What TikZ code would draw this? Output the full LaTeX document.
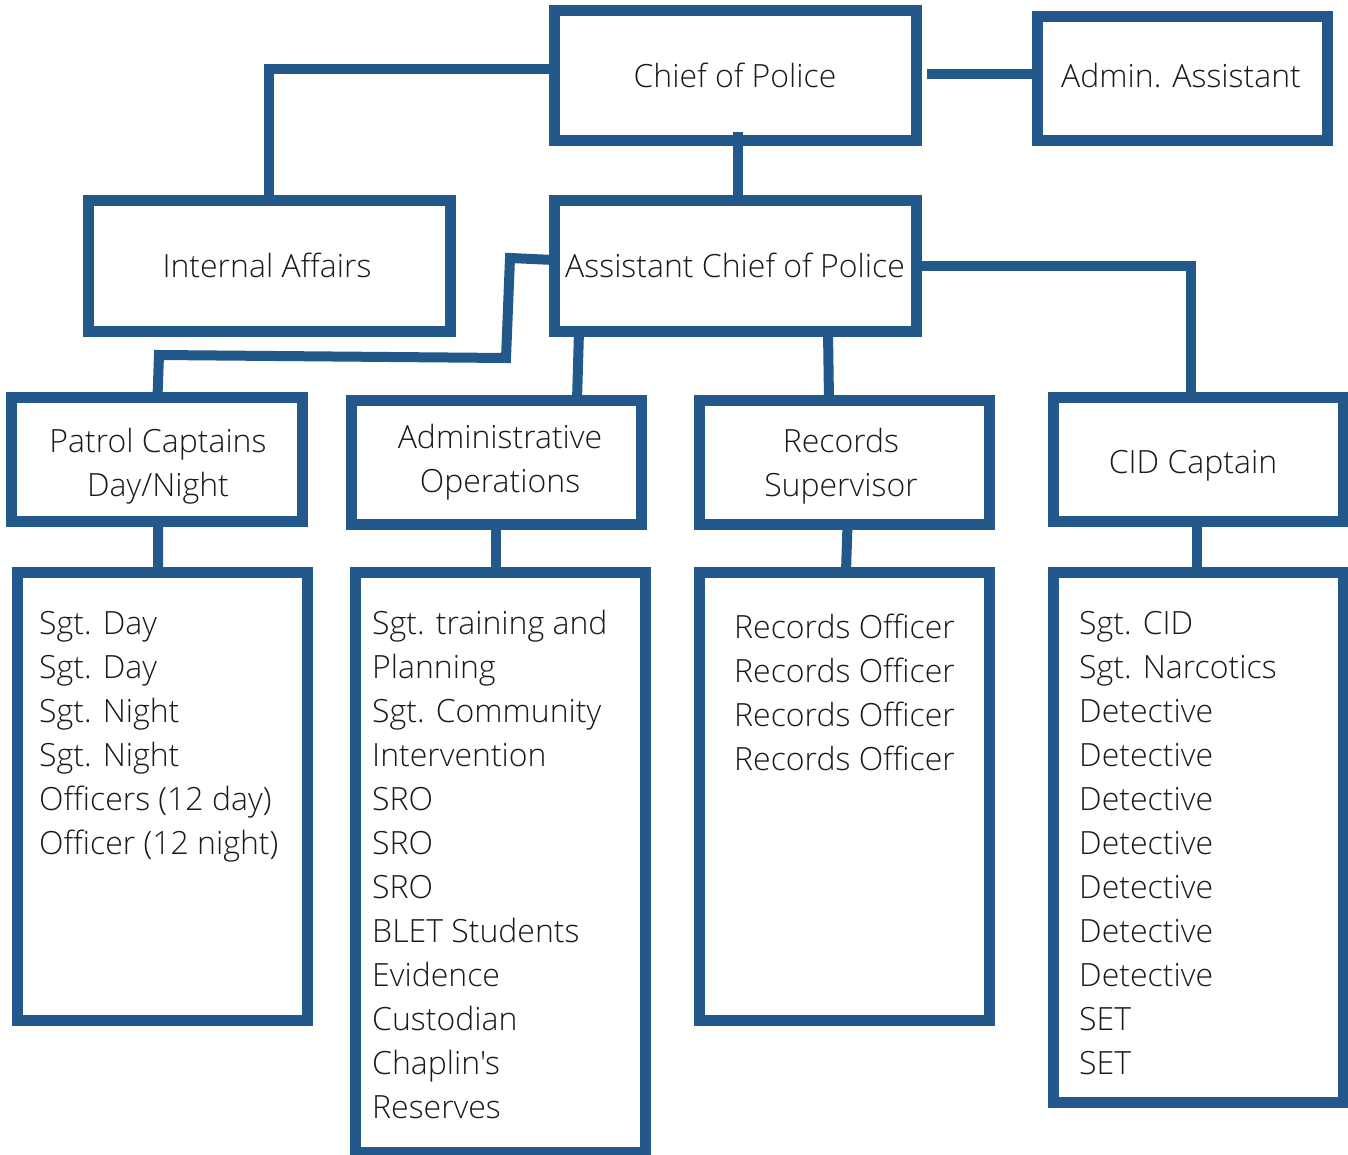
\documentclass[tikz,border=0pt]{standalone}
\usepackage{fontspec}
\IfFontExistsTF{Open Sans Light}
  {\newfontfamily\hdrfont{Open Sans Light}\newfontfamily\listfont{Open Sans Light}}
  {\newfontfamily\hdrfont{Open Sans}\newfontfamily\listfont{Open Sans}}
\definecolor{boxblue}{RGB}{34,89,138}
\definecolor{ink}{RGB}{26,26,26}
\newcommand{\leftlines}[1]{\vtop{\baselineskip=44pt\lineskiplimit=-100pt\halign{##\hfil\cr#1\crcr}}}
\newcommand{\centerlines}[1]{\vtop{\baselineskip=44pt\lineskiplimit=-100pt\halign{\hfil##\hfil\cr#1\crcr}}}
\tikzset{
  orgbox/.style={draw=boxblue,line width=11pt,inner sep=0pt,outer sep=0pt},
  conn/.style={draw=boxblue,line width=10pt},
  hdr/.style={font=\hdrfont\fontsize{32}{44}\selectfont,text=ink,inner sep=0pt,anchor=base},
  lst/.style={font=\listfont\fontsize{32}{44}\selectfont,text=ink,inner sep=0pt,anchor=base west},
}
\begin{document}
\begin{tikzpicture}[x=1pt,y=-1pt]
\useasboundingbox (0,0) rectangle (1348,1155);
\fill[white] (0,0) rectangle (1348,1155);

% boxes
\node[orgbox,minimum width=362pt,minimum height=130pt] (chief)  at (735,75.5) {};
\node[orgbox,minimum width=290pt,minimum height=124pt] (admin)  at (1182,79) {};
\node[orgbox,minimum width=362pt,minimum height=130pt] (ia)     at (269,266) {};
\node[orgbox,minimum width=362pt,minimum height=130pt] (asst)   at (735,266) {};
\node[orgbox,minimum width=291pt,minimum height=124pt] (patrol) at (156.5,459) {};
\node[orgbox,minimum width=290pt,minimum height=124pt] (adops)  at (496,462.5) {};
\node[orgbox,minimum width=290pt,minimum height=124pt] (recsup) at (844,462.5) {};
\node[orgbox,minimum width=290pt,minimum height=124pt] (cid)    at (1198,459) {};
\node[orgbox,minimum width=290.5pt,minimum height=448pt] (plist) at (162.25,796) {};
\node[orgbox,minimum width=290pt,minimum height=580pt] (alist)  at (500,862) {};
\node[orgbox,minimum width=290pt,minimum height=448pt] (rlist)  at (844,796) {};
\node[orgbox,minimum width=290pt,minimum height=530pt] (clist)  at (1198,837) {};

% connectors
\draw[conn] ([yshift=6.5pt]chief.west) -| (ia.north);
\draw[conn] ([xshift=11pt,yshift=1.5pt]chief.east) coordinate (ca) -- (ca -| admin.west);
\draw[conn] ([xshift=3pt,yshift=8pt]chief.south) -- ([xshift=3pt]asst.north);
\draw[conn] (asst.east) -- (1190.5,266) -- (1190.5,397) coordinate (cidtop) -- (cidtop);
\draw[conn] ([yshift=6pt]asst.west) -- (510,258) -- (506,358) -- (159,355) -- ([xshift=1pt]patrol.north);
\draw[conn] ([xshift=-156pt]asst.south) -- ([xshift=81pt]adops.north);
\draw[conn] ([xshift=93pt]asst.south) -- ([xshift=-15pt]recsup.north);
\draw[conn] ([xshift=1.5pt]patrol.south) -- ([xshift=-4pt]plist.north);
\draw[conn] (adops.south) -- ([xshift=-4pt]alist.north);
\draw[conn] ([xshift=3.5pt]recsup.south) -- ([xshift=2pt]rlist.north);
\draw[conn] ([xshift=-1pt]cid.south) -- ([xshift=-1pt]clist.north);

% header texts
\node[hdr] (t-chief)  at (735,88)  {Chief of Police};
\node[hdr] (t-admin)  at (1181,88) {Admin. Assistant};
\node[hdr] (t-ia)     at (267,278) {Internal Affairs};
\node[hdr] (t-asst)   at (735,278) {Assistant Chief of Police};
\node[hdr] (t-patrol) at (158,452) {\centerlines{Patrol Captains\cr Day/Night}};
\node[hdr] (t-adops)  at (500,448) {\centerlines{Administrative\cr Operations}};
\node[hdr] (t-recsup) at (841,452) {\centerlines{Records\cr Supervisor}};
\node[hdr] (t-cid)    at (1193,473) {CID Captain};

% list texts
\node[lst] (l-patrol) at (39,634) {\leftlines{Sgt. Day\cr Sgt. Day\cr Sgt. Night\cr Sgt. Night\cr Officers (12 day)\cr Officer (12 night)}};
\node[lst] (l-adops) at (372,634) {\leftlines{Sgt. training and\cr Planning\cr Sgt. Community\cr Intervention\cr SRO\cr SRO\cr SRO\cr BLET Students\cr Evidence\cr Custodian\cr Chaplin's\cr Reserves}};
\node[lst] (l-rec) at (734,638) {\leftlines{Records Officer\cr Records Officer\cr Records Officer\cr Records Officer}};
\node[lst] (l-cid) at (1079,634) {\leftlines{Sgt. CID\cr Sgt. Narcotics\cr Detective\cr Detective\cr Detective\cr Detective\cr Detective\cr Detective\cr Detective\cr SET\cr SET}};
\end{tikzpicture}
\end{document}
